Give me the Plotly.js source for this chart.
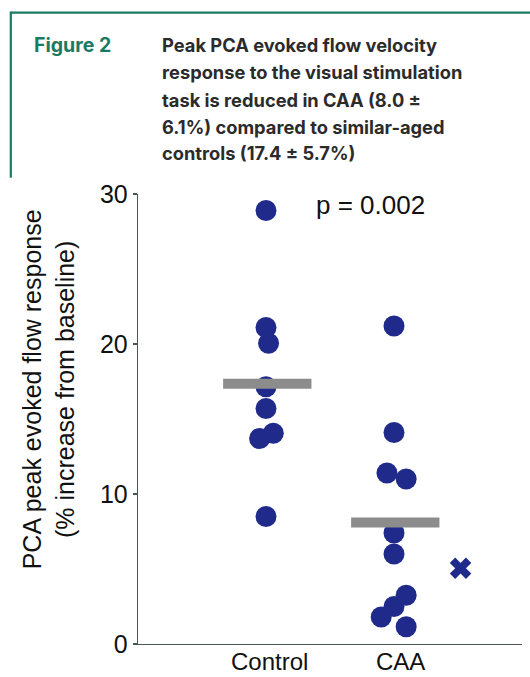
<!DOCTYPE html>
<html>
<head>
<meta charset="utf-8">
<script src="https://cdn.plot.ly/plotly-3.0.1.min.js"></script>
<style>
html,body{margin:0;padding:0;background:#fff;}
#chart{width:530px;height:677px;}
</style>
</head>
<body>
<div id="chart"></div>
<script>
// ---- data ----
var categories = ["Control", "CAA"];
var categoryPos = [1, 2];
var controlValues = [28.9, 21.1, 20.05, 17.15, 15.7, 13.7, 14.05, 8.5];
var controlJitter = [0, 0, 0.02, 0, 0, -0.05, 0.057, 0];
var caaValues = [21.2, 14.1, 11.4, 11.0, 7.4, 6.0, 3.25, 2.5, 1.8, 1.15];
var caaJitter = [0, 0, -0.055, 0.095, 0, 0, 0.095, 0, -0.1, 0.095];
var excludedValue = [5.05];
var excludedPos = [2.52];
var meanValues = [17.35, 8.1];
var yTickVals = [0, 10, 20, 30];
var pText = "p = 0.002";
var figLabel = "Figure 2";
var captionLines = [
  "Peak PCA evoked flow velocity",
  "response to the visual stimulation",
  "task is reduced in CAA (8.0 \u00b1",
  "6.1%) compared to similar-aged",
  "controls (17.4 \u00b1 5.7%)"
];

// ---- layout geometry (pixels) ----
var W = 530, H = 677;
var mL = 137.7, mR = 8.3, mT = 194, mB = 33;
var pw = W - mL - mR, ph = H - mT - mB;
function px(x){ return (x - mL) / pw; }
function py(y){ return (H - mB - y) / ph; }

var dotColor = "#1f2a8a";
var green = "#1b7a62";

var traces = [];
traces.push({
  type: "scatter", mode: "markers",
  x: controlValues.map(function(v,i){ return categoryPos[0] + controlJitter[i]; }),
  y: controlValues,
  marker: {color: dotColor, size: 21, line: {width: 0}},
  hoverinfo: "none", showlegend: false
});
traces.push({
  type: "scatter", mode: "markers",
  x: caaValues.map(function(v,i){ return categoryPos[1] + caaJitter[i]; }),
  y: caaValues,
  marker: {color: dotColor, size: 21, line: {width: 0}},
  hoverinfo: "none", showlegend: false
});
traces.push({
  type: "scatter", mode: "markers",
  x: excludedPos, y: excludedValue,
  marker: {color: dotColor, size: 19, symbol: "x", line: {width: 0}},
  hoverinfo: "none", showlegend: false
});
var meanHalf = 0.345;
meanValues.forEach(function(m, i){
  traces.push({
    type: "scatter", mode: "lines",
    x: [categoryPos[i] - meanHalf + 0.01, categoryPos[i] + meanHalf + 0.01],
    y: [m, m],
    line: {color: "#8c8c8c", width: 10},
    hoverinfo: "none", showlegend: false
  });
});

var annotations = [];
annotations.push({
  xref: "paper", yref: "paper", x: px(48), y: py(389),
  xanchor: "center", yanchor: "middle", showarrow: false, textangle: -90,
  text: "PCA peak evoked flow response<br>(% increase from baseline)",
  font: {family: "Liberation Sans, Arial, sans-serif", size: 25, color: "#111"}
});
annotations.push({
  xref: "paper", yref: "paper", x: px(370), y: py(205),
  xanchor: "center", yanchor: "middle", showarrow: false,
  text: pText,
  font: {family: "Liberation Sans, Arial, sans-serif", size: 26, color: "#111"}
});
// category labels under the x axis
var labelShift = [0.03, 0.05];
categories.forEach(function(c, i){
  annotations.push({
    xref: "x", yref: "paper", x: categoryPos[i] + labelShift[i], y: py(647),
    xanchor: "center", yanchor: "top", showarrow: false, borderpad: 0,
    text: c,
    font: {family: "Liberation Sans, Arial, sans-serif", size: 24, color: "#111"}
  });
});
annotations.push({
  xref: "paper", yref: "paper", x: px(32), y: py(45),
  xanchor: "left", yanchor: "middle", showarrow: false,
  text: figLabel,
  font: {family: "Inter, sans-serif", size: 19.5, color: green, weight: 700}
});
var lineY = [45, 72.5, 99.5, 126.5, 153];
captionLines.forEach(function(t, i){
  annotations.push({
    xref: "paper", yref: "paper", x: px(160), y: py(lineY[i]),
    xanchor: "left", yanchor: "middle", showarrow: false, align: "left",
    text: t,
    font: {family: "Inter, sans-serif", size: 18.3, color: "#2b2b2b", weight: 700}
  });
});

var shapes = [
  {type: "line", xref: "paper", yref: "paper", x0: px(10.5), x1: px(531), y0: py(12.7), y1: py(12.7),
   line: {color: green, width: 2.2}},
  {type: "line", xref: "paper", yref: "paper", x0: px(10.5), x1: px(10.5), y0: py(11.6), y1: py(177.7),
   line: {color: green, width: 2.2}}
];

var axisColor = "#4a5656";
var layout = {
  width: W, height: H,
  margin: {l: mL, r: mR, t: mT, b: mB, pad: 0},
  paper_bgcolor: "#fff", plot_bgcolor: "#fff",
  showlegend: false,
  xaxis: {
    range: [0, 3], showgrid: false, zeroline: false,
    showline: true, linecolor: axisColor, linewidth: 1.3,
    ticks: "", showticklabels: false
  },
  yaxis: {
    range: [0, 30], showgrid: false, zeroline: false,
    showline: true, linecolor: axisColor, linewidth: 1.3,
    ticks: "outside", ticklen: 4, tickcolor: axisColor, tickwidth: 1.3,
    tickvals: yTickVals,
    tickfont: {family: "Liberation Sans, Arial, sans-serif", size: 25, color: "#111"}
  },
  annotations: annotations,
  shapes: shapes
};

Plotly.newPlot("chart", traces, layout, {displayModeBar: false, staticPlot: true});
</script>
</body>
</html>
